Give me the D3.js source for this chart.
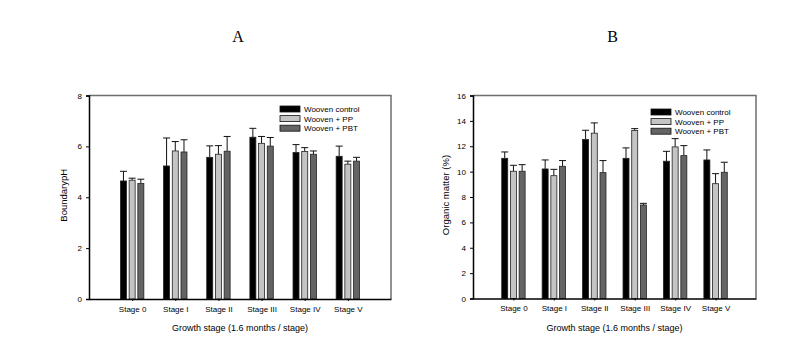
<!DOCTYPE html>
<html>
<head>
<meta charset="utf-8">
<script src="https://cdn.jsdelivr.net/npm/d3@7"></script>
<style>
  body { margin: 0; background: #fff; }
  text { font-family: "Liberation Sans", Arial, sans-serif; fill: #000; }
</style>
</head>
<body>
<div id="chart"></div>
<script>
// stage labels + series names
var stages = ["Stage 0", "Stage I", "Stage II", "Stage III", "Stage IV", "Stage V"];
var seriesNames = ["Wooven control", "Wooven + PP", "Wooven + PBT"];
var barColors = ["#000000", "#c4c4c4", "#646464"];

// panel A: boundary pH (mean and upper error)
var phControl = [4.64, 5.23, 5.57, 6.36, 5.76, 5.61];
var phPP      = [4.67, 5.82, 5.69, 6.12, 5.80, 5.30];
var phPBT     = [4.54, 5.78, 5.81, 6.01, 5.69, 5.42];
var phControlErr = [0.38, 1.10, 0.45, 0.35, 0.31, 0.40];
var phPPErr      = [0.08, 0.37, 0.34, 0.27, 0.15, 0.12];
var phPBTErr     = [0.17, 0.48, 0.58, 0.34, 0.13, 0.15];
var phTicks = [0, 2, 4, 6, 8];

// panel B: organic matter (%)
var omControl = [11.05, 10.21, 12.53, 11.05, 10.82, 10.92];
var omPP      = [10.03, 9.68, 13.03, 13.24, 11.95, 9.05];
var omPBT     = [10.03, 10.42, 9.92, 7.37, 11.26, 9.95];
var omControlErr = [0.50, 0.71, 0.73, 0.82, 0.78, 0.79];
var omPPErr      = [0.47, 0.50, 0.81, 0.15, 0.65, 0.79];
var omPBTErr     = [0.52, 0.45, 0.95, 0.13, 0.79, 0.79];
var omTicks = [0, 2, 4, 6, 8, 10, 12, 14, 16];

var svg = d3.select('#chart')
    .append('svg')
    .attr('width', 791)
    .attr('height', 350);

function drawPanel(opt) {
    var x = d3.scalePoint()
        .domain(stages)
        .range([opt.left, opt.right])
        .padding(1);
    var y = d3.scaleLinear()
        .domain([0, opt.ymax])
        .range([opt.bottom, opt.top]);
    var barW = 6, pitch = 8.7;

    var g = svg.append('g');

    // panel letter
    g.append('text')
        .attr('x', (opt.left + opt.right) / 2 - 2)
        .attr('y', 42)
        .attr('text-anchor', 'middle')
        .style('font-family', '"Liberation Serif", "Times New Roman", serif')
        .style('font-size', '16px')
        .text(opt.letter);

    // top + right frame (grey)
    g.append('path')
        .attr('d', 'M' + opt.left + ',' + opt.top + 'H' + opt.right + 'V' + opt.bottom)
        .attr('fill', 'none')
        .attr('stroke', '#6e6e6e')
        .attr('stroke-width', 1.5);

    var series = [
        { vals: opt.data[0], err: opt.err[0] },
        { vals: opt.data[1], err: opt.err[1] },
        { vals: opt.data[2], err: opt.err[2] }
    ];

    series.forEach(function (s, k) {
        var off = (k - 1) * pitch;
        var sg = g.append('g');
        // error bars (upper only)
        sg.selectAll('.err')
            .data(stages)
            .enter()
            .append('path')
            .attr('d', function (d, i) {
                var cx = x(d) + off;
                var yt = y(s.vals[i] + s.err[i]);
                return 'M' + cx + ',' + y(s.vals[i]) + 'V' + yt +
                    'M' + (cx - barW / 2 - 0.5) + ',' + yt + 'H' + (cx + barW / 2 + 0.5);
            })
            .attr('stroke', '#111')
            .attr('stroke-width', 1)
            .attr('fill', 'none');
        sg.selectAll('rect')
            .data(stages)
            .enter()
            .append('rect')
            .attr('x', function (d) { return x(d) + off - barW / 2; })
            .attr('y', function (d, i) { return y(s.vals[i]); })
            .attr('width', barW)
            .attr('height', function (d, i) { return opt.bottom - y(s.vals[i]); })
            .attr('fill', barColors[k])
            .attr('stroke', '#222')
            .attr('stroke-width', 0.8);
    });

    // y axis
    var yAxis = g.append('g')
        .attr('transform', 'translate(' + opt.left + ',0)')
        .call(d3.axisLeft(y).tickValues(opt.ticks).tickSize(3).tickPadding(4));
    yAxis.select('.domain').attr('stroke', '#000').attr('stroke-width', 1.5);
    yAxis.selectAll('text').style('font-size', '8px').style('font-family', '"Liberation Sans", Arial, sans-serif');

    // x axis
    var xAxis = g.append('g')
        .attr('transform', 'translate(0,' + opt.bottom + ')')
        .call(d3.axisBottom(x).tickSize(2).tickPadding(5).tickSizeOuter(0));
    xAxis.select('.domain').attr('stroke', '#000').attr('stroke-width', 1.5);
    xAxis.selectAll('text').style('font-size', '8px').style('font-family', '"Liberation Sans", Arial, sans-serif');

    // axis titles
    g.append('text')
        .attr('x', (opt.left + opt.right) / 2)
        .attr('y', 331)
        .attr('text-anchor', 'middle')
        .style('font-size', '9px')
        .text('Growth stage (1.6 months / stage)');
    g.append('text')
        .attr('transform', 'translate(' + opt.ylabelX + ',' + ((opt.top + opt.bottom) / 2 - 2) + ') rotate(-90)')
        .attr('text-anchor', 'middle')
        .style('font-size', '9.5px')
        .text(opt.ylabel);

    // legend
    var legend = g.selectAll('.legend')
        .data(seriesNames)
        .enter()
        .append('g')
        .attr('transform', function (d, i) {
            return 'translate(' + opt.legX + ',' + (opt.legY + i * 9.6) + ')';
        });
    legend.append('rect')
        .attr('x', 0)
        .attr('y', -3)
        .attr('width', 20)
        .attr('height', 6)
        .attr('fill', function (d, i) { return barColors[i]; })
        .attr('stroke', '#111')
        .attr('stroke-width', 0.8);
    legend.append('text')
        .attr('x', 24)
        .attr('y', 3)
        .style('font-size', '8px')
        .text(function (d) { return d; });
}

drawPanel({
    letter: 'A', left: 89, right: 391, top: 95.5, bottom: 299, ymax: 8,
    data: [phControl, phPP, phPBT], err: [phControlErr, phPPErr, phPBTErr],
    ticks: phTicks, ylabel: 'BoundarypH', ylabelX: 67, legX: 280, legY: 109
});
drawPanel({
    letter: 'B', left: 473, right: 756, top: 95.5, bottom: 298.5, ymax: 16,
    data: [omControl, omPP, omPBT], err: [omControlErr, omPPErr, omPBTErr],
    ticks: omTicks, ylabel: 'Organic matter (%)', ylabelX: 449, legX: 651, legY: 112
});
</script>
</body>
</html>
